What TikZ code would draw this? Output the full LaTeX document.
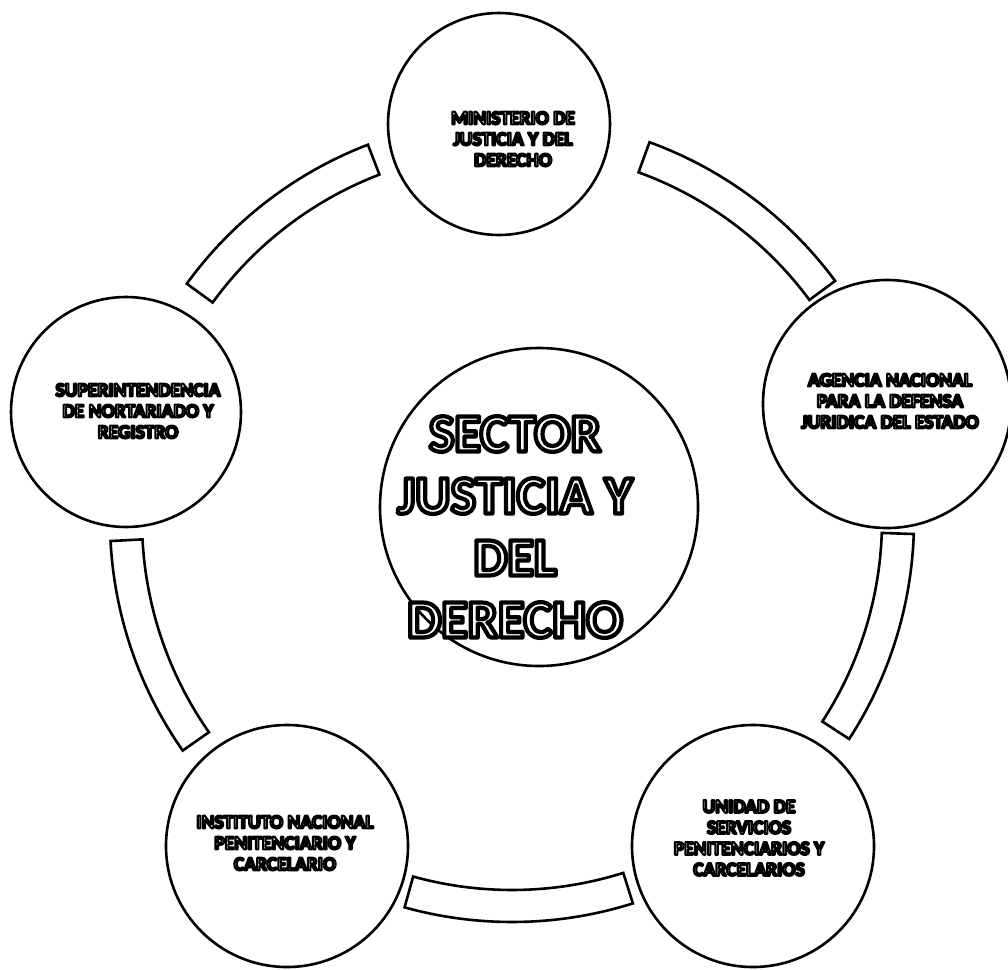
\documentclass[tikz,border=0pt]{standalone}
\usepackage{fontspec}
\setmainfont{Carlito}
\usetikzlibrary{calc}
% hollow (outlined) text: fill in the current colour, stroke in black
\newcommand\hol[2]{\special{pdf:literal direct 2 Tr #1 w 0 G 1 j}#2\special{pdf:literal direct 0 Tr}}
\begin{document}
\begin{tikzpicture}[x=1pt,y=-1pt,
  ring/.style={draw=black, line width=2.6pt, fill=white, line join=miter},
  bubble/.style={circle, draw=black, line width=2.6pt, fill=white, inner sep=0pt},
  smalltxt/.style={text=white, align=center, font=\bfseries\fontsize{19.5}{21}\selectfont},
  bigtxt/.style={text=white, align=center, font=\bfseries\fontsize{54}{62}\selectfont}]
\fill[white] (0,0) rectangle (1008,969);
\useasboundingbox (0,0) rectangle (1008,969);
\coordinate (O) at (512,520);
\foreach \a/\b in {-70/-36.5, -144/-111, 145/177, 72.5/105.5, 2/33} {
  \draw[ring] ([shift={(\a:370)}]O) arc[start angle=\a, end angle=\b, radius=370]
     -- ([shift={(\b:402)}]O) arc[start angle=\b, end angle=\a, radius=402] -- cycle;
}
\node[bubble, minimum size=222pt] (top) at (499,124) {};
\node[bubble, minimum size=248pt] (right) at (887,404) {};
\node[bubble, minimum size=230pt] (left) at (126,412) {};
\node[bubble, minimum size=242pt] (bl) at (287,846) {};
\node[bubble, minimum size=242pt] (br) at (753,846) {};
\node[bubble, minimum size=318pt] (center) at (539,507) {};

\node[smalltxt] (ttop) at (513,139) {\hol{2.1}{MINISTERIO DE\\JUSTICIA Y DEL\\DERECHO}};
\node[smalltxt] (tright) at (890,401) {\hol{2.1}{AGENCIA NACIONAL\\PARA LA DEFENSA\\JURIDICA DEL ESTADO}};
\node[smalltxt] (tleft) at (138,411) {\hol{2.1}{SUPERINTENDENCIA\\DE NORTARIADO Y\\REGISTRO}};
\node[smalltxt] (tbl) at (285,843) {\hol{2.1}{INSTITUTO NACIONAL\\PENITENCIARIO Y\\CARCELARIO}};
\node[smalltxt] (tbr) at (749,838) {\hol{2.1}{UNIDAD DE\\SERVICIOS\\PENITENCIARIOS Y\\CARCELARIOS}};
\node[bigtxt] (tcenter) at (515,527) {\hol{4.2}{SECTOR\\JUSTICIA Y\\DEL\\DERECHO}};
\end{tikzpicture}
\end{document}
